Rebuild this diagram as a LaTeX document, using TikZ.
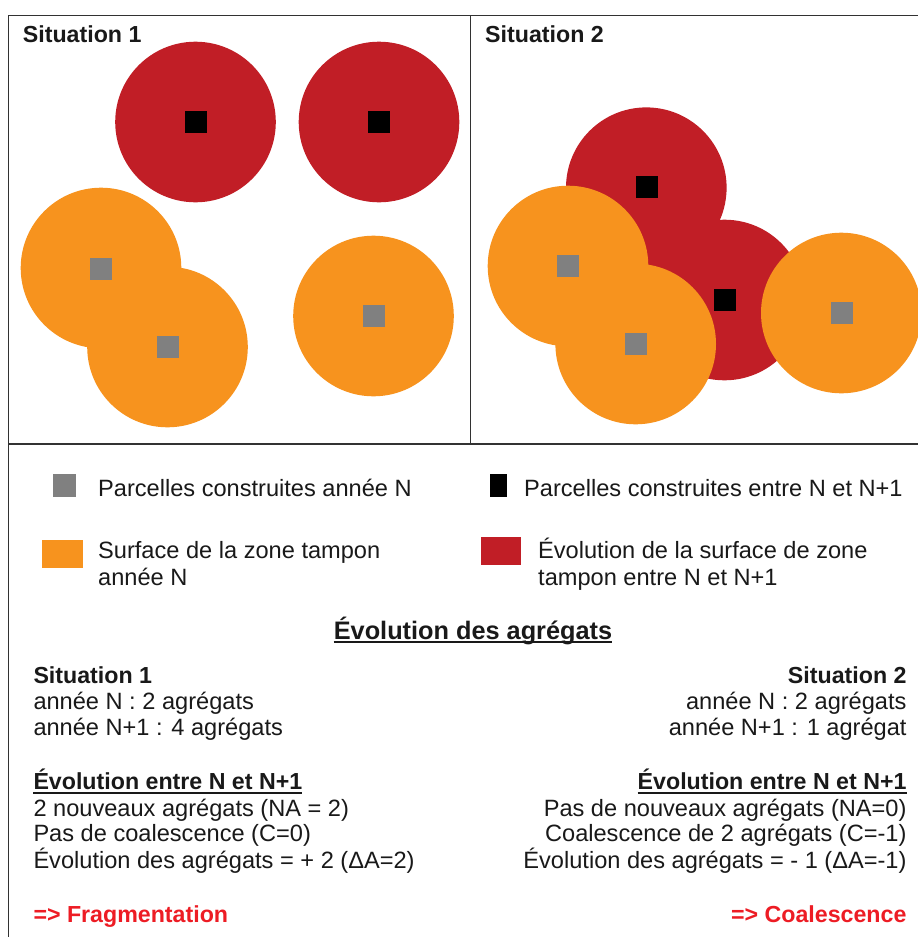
\documentclass[tikz,border=0pt]{standalone}
\usepackage{fontspec}
\setmainfont{Liberation Sans}
\definecolor{bufred}{RGB}{193,30,38}
\definecolor{buforange}{RGB}{247,147,30}
\definecolor{parcgray}{RGB}{128,128,128}
\definecolor{txtred}{RGB}{237,28,36}
\definecolor{framegray}{RGB}{50,50,50}
\definecolor{txtcol}{RGB}{25,25,25}
\begin{document}
\begin{tikzpicture}[x=1pt,y=-1pt,
  frame/.style={draw=framegray,line width=1.5pt},
  redbuf/.style={fill=bufred},
  orbuf/.style={fill=buforange},
  sqbase/.style={inner sep=0pt,minimum width=22pt,minimum height=22pt,draw=none},
  oldparc/.style={sqbase,fill=parcgray},
  newparc/.style={sqbase,fill=black},
  txtl/.style={anchor=base west,inner sep=0pt,text=txtcol,font=\fontsize{23.6}{25.7}\selectfont},
  txtr/.style={anchor=base east,inner sep=0pt,text=txtcol,font=\fontsize{23.6}{25.7}\selectfont},
  boldl/.style={txtl,font=\fontsize{23.2}{25.7}\selectfont\bfseries},
  boldr/.style={txtr,font=\fontsize{23.2}{25.7}\selectfont\bfseries},
  redl/.style={boldl,text=txtred},
  redr/.style={boldr,text=txtred},
  uline/.style={draw=txtcol,line width=1.5pt}
]
\useasboundingbox (0,0) rectangle (918,937);
\clip (0,0) rectangle (918,937);
\fill[white] (0,0) rectangle (918,937);

% ---------- Situation 1 ----------
\fill[redbuf] (195.5,122) circle[radius=80.3];
\fill[redbuf] (379,122) circle[radius=80.3];
\fill[orbuf] (101,268) circle[radius=80.3];
\fill[orbuf] (167.5,347) circle[radius=80.3];
\fill[orbuf] (373.5,316) circle[radius=80.3];
\node[newparc] (s1n1) at (196,122) {};
\node[newparc] (s1n2) at (379,122) {};
\node[oldparc] (s1o1) at (101,268.5) {};
\node[oldparc] (s1o2) at (168,346.7) {};
\node[oldparc] (s1o3) at (374,316) {};

% ---------- Situation 2 ----------
\fill[redbuf] (646.3,187.7) circle[radius=80.3];
\fill[redbuf] (724.5,300) circle[radius=80.3];
\fill[orbuf] (568,266) circle[radius=80.3];
\fill[orbuf] (635.7,344) circle[radius=80.3];
\fill[orbuf] (841.3,313) circle[radius=80.3];
\node[newparc] (s2n1) at (646.5,187) {};
\node[newparc] (s2n2) at (724.5,299.5) {};
\node[oldparc] (s2o1) at (568,266) {};
\node[oldparc] (s2o2) at (635.5,344) {};
\node[oldparc] (s2o3) at (841.5,313) {};

\node[boldl] (sit1) at (22.7,42) {Situation 1};
\node[boldl] (sit2) at (485,42) {Situation 2};

% ---------- frame ----------
\coordinate (tl) at (8.5,15.5);
\coordinate (tr) at (918,15.5);
\coordinate (bl) at (8.5,937);
\coordinate (ml) at (8.5,444);
\coordinate (mr) at (918,444);
\coordinate (dt) at (470.5,15.5);
\coordinate (db) at (470.5,444);
\draw[frame] (bl) -- (tl) -- (tr);
\draw[frame] (ml) -- (mr);
\draw[frame] (dt) -- (db);

% ---------- legend ----------
\node[sqbase,fill=parcgray,minimum width=23pt,minimum height=23pt] (lg1) at (64.5,485.5) {};
\node[txtl] (lt1) at (98,496) {Parcelles construites année N};
\node[sqbase,fill=black,minimum width=17pt,minimum height=23pt] (lg2) at (498.5,485.5) {};
\node[txtl] (lt2) at (524,496) {Parcelles construites entre N et N+1};
\node[sqbase,fill=buforange,minimum width=41pt,minimum height=28pt] (lg3) at (62.5,554) {};
\node[txtl] (lt3a) at (98,558) {Surface de la zone tampon};
\node[txtl] (lt3b) at (98,585) {année N};
\node[sqbase,fill=bufred,minimum width=40pt,minimum height=28pt] (lg4) at (501,551) {};
\node[txtl] (lt4a) at (538,558) {Évolution de la surface de zone};
\node[txtl] (lt4b) at (538,585) {tampon entre N et N+1};

% ---------- title ----------
\node[anchor=base,inner sep=0pt,text=txtcol,font=\fontsize{25.3}{28}\selectfont\bfseries] (title) at (473,639) {Évolution des agrégats};
\draw[uline] ([yshift=-3pt]title.base west) -- ([yshift=-3pt]title.base east);

% ---------- left column ----------
\node[boldl] (a1) at (33.3,683.3) {Situation 1};
\node[txtl] (a2) at (33.3,709.3) {année N : 2 agrégats};
\node[txtl] (a3) at (33.3,735) {année N+1 : 4 agrégats};
\node[boldl] (a4) at (33.3,789) {Évolution entre N et N+1};
\draw[uline] ([yshift=-4pt]a4.base west) -- ([yshift=-4pt]a4.base east);
\node[txtl] (a5) at (33.3,816.7) {2 nouveaux agrégats (NA = 2)};
\node[txtl] (a6) at (33.3,841.7) {Pas de coalescence (C=0)};
\node[txtl] (a7) at (33.3,868.3) {Évolution des agrégats = + 2 (ΔA=2)};
\node[redl] (a8) at (33.3,922.3) {=> Fragmentation};

% ---------- right column ----------
\node[boldr] (b1) at (906.7,683.3) {Situation 2};
\node[txtr] (b2) at (906.7,709.3) {année N : 2 agrégats};
\node[txtr] (b3) at (906.7,735) {année N+1 : 1 agrégat};
\node[boldr] (b4) at (906.7,789) {Évolution entre N et N+1};
\draw[uline] ([yshift=-4pt]b4.base west) -- ([yshift=-4pt]b4.base east);
\node[txtr] (b5) at (906.7,816.7) {Pas de nouveaux agrégats (NA=0)};
\node[txtr] (b6) at (906.7,841.7) {Coalescence de 2 agrégats (C=-1)};
\node[txtr] (b7) at (906.7,868.3) {Évolution des agrégats = - 1 (ΔA=-1)};
\node[redr] (b8) at (906.7,922.3) {=> Coalescence};
\end{tikzpicture}
\end{document}
